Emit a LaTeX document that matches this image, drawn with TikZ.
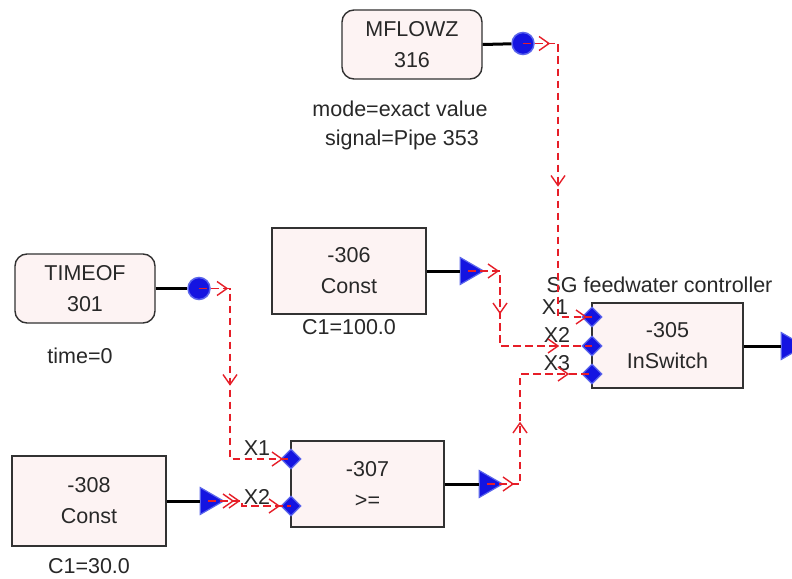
\documentclass[tikz,border=0pt]{standalone}
\usepackage{fontspec}
\setmainfont{Liberation Sans}
\usepackage{tikz}
\usetikzlibrary{arrows.meta,positioning,calc,shapes.geometric,decorations.markings}

\definecolor{blkfill}{RGB}{253,243,243}
\definecolor{blkline}{RGB}{50,50,50}
\definecolor{portblue}{RGB}{20,20,225}
\definecolor{portglow}{RGB}{90,100,235}
\definecolor{sigred}{RGB}{230,30,40}
\definecolor{txt}{RGB}{40,40,40}

\tikzset{
  chev/.style={postaction={decorate,decoration={markings,
    mark=at position #1 with {\draw[solid,line width=1.4pt,sigred] (-10pt,7pt) -- (0pt,0pt) -- (-10pt,-7pt);}}}}
}

\begin{document}
\begin{tikzpicture}[x=1pt,y=-1pt,
  font=\fontsize{21.5}{31}\selectfont,
  blk/.style={draw=blkline,line width=1.4pt,fill=blkfill,align=center,text=txt,inner sep=0pt},
  rblk/.style={blk,rounded corners=12pt,minimum width=140pt,minimum height=69pt},
  cblk/.style={blk,minimum width=154pt,minimum height=86pt},
  lbl/.style={text=txt,inner sep=0pt},
  stub/.style={line width=3pt,black},
  dotport/.style={circle,fill=portblue,draw=portglow,line width=1.5pt,minimum size=22pt,inner sep=0pt},
  triport/.style={regular polygon,regular polygon sides=3,shape border rotate=-90,fill=portblue,draw=portglow,line width=1.2pt,minimum size=31pt,inner sep=0pt},
  inport/.style={diamond,fill=portblue,draw=portglow,line width=1.2pt,minimum size=20pt,inner sep=0pt},
  sig/.style={sigred,line width=1.4pt,dash pattern=on 7.5pt off 4.5pt}]
\fill[white] (0,0) rectangle (792,578);
\useasboundingbox (0,0) rectangle (792,578);

% blocks
\node[rblk] (mflowz) at (412,44.5) {MFLOWZ\\316};
\node[rblk] (timeof) at (85,288.5) {TIMEOF\\301};
\node[cblk] (c306) at (349,271) {-306\\Const};
\node[cblk,minimum width=153pt] (g307) at (367.5,484) {-307\\>=};
\node[cblk,minimum height=90pt] (c308) at (89,501) {-308\\Const};
\node[cblk,minimum width=151pt,minimum height=85pt] (sw305) at (667.5,345.5) {-305\\InSwitch};

% labels
\node[lbl,below=21pt of mflowz.south,xshift=-12pt] (mode) {mode=exact value};
\node[lbl,below=13pt of mode,xshift=2pt] (pipe) {signal=Pipe 353};
\node[lbl,below=24pt of timeof.south,xshift=-5pt] {time=0};
\node[lbl,below=5pt of c306] {C1=100.0};
\node[lbl,below=12pt of c308] {C1=30.0};
\node[lbl,above=9pt of sw305.north,xshift=-8pt] {SG feedwater controller};

% output stubs and markers
\node[dotport] (mflowzo) at (523,43.5) {};
\node[dotport] (timeofo) at (199,288.5) {};
\node[triport] (c306o) at (468,271) {};
\node[triport] (g307o) at (487,484) {};
\node[triport] (c308o) at (208,501) {};
\node[triport] (sw305o) at (789,346) {};
\draw[stub] (mflowz.east) -- (mflowzo);
\draw[stub] (timeof.east) -- (timeofo);
\draw[stub] (c306.east) -- (c306o.west);
\draw[stub] (g307.east) -- (g307o.west);
\draw[stub] (c308.east) -- (c308o.west);
\draw[stub] (sw305.east |- sw305o) -- (sw305o.west);

% input ports
\node[inport] (sw305x1) at (592,317) {};
\node[inport] (sw305x2) at (592,346) {};
\node[inport] (sw305x3) at (592,374) {};
\node[inport] (g307x1) at (291,459) {};
\node[inport] (g307x2) at (291,506) {};
\node[lbl] at (555,307) {X1};
\node[lbl] at (557,335) {X2};
\node[lbl] at (557,363) {X3};
\node[lbl] at (257,448) {X1};
\node[lbl] at (257,497) {X2};

% signals
\draw[sig,chev=26pt,chev=177pt,chev=-6pt] (mflowzo.center) -- ++(35,0) |- (sw305x1.center);
\draw[sig,chev=30pt,chev=74pt,chev=-34pt] (c306o.center) -- ++(32,0) |- (sw305x2.center);
\draw[sig,chev=26pt,chev=94pt,chev=-24pt] (g307o.center) -- ++(33,0) |- (sw305x3.center);
\draw[sig,chev=28pt,chev=127pt,chev=-9pt] (timeofo.center) -- ++(31,0) |- (g307x1.center);
\draw[sig,chev=25pt,chev=31pt,chev=-12pt] (c308o.center) -- ++(34,0) |- (g307x2.center);
\end{tikzpicture}
\end{document}
